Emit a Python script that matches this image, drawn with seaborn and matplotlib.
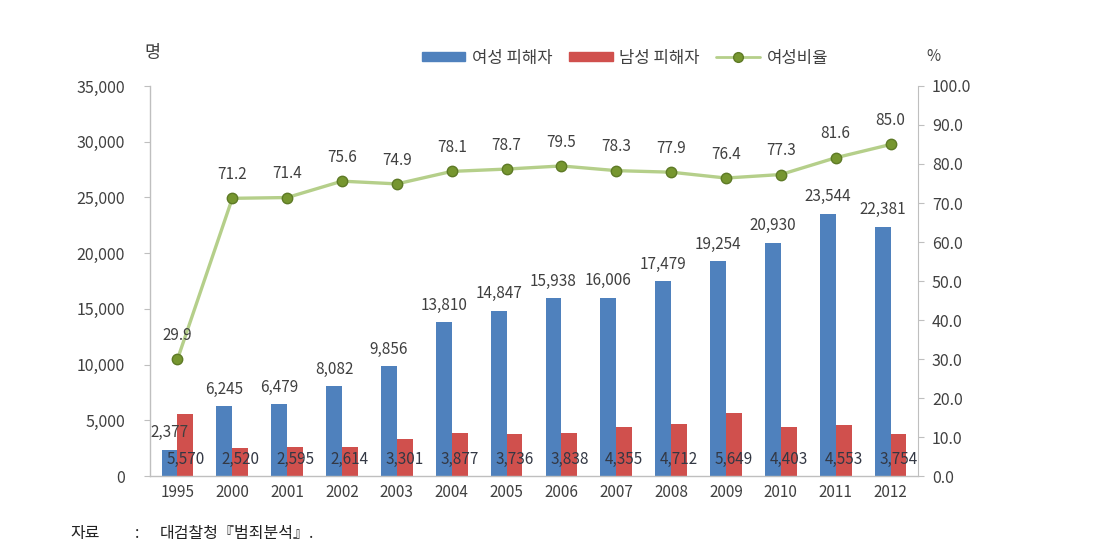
import matplotlib
matplotlib.use("Agg")
import matplotlib.pyplot as plt
import matplotlib.patches as mpatches
import matplotlib.lines as mlines
import seaborn as sns
import numpy as np
import pandas as pd

years = ["1995", "2000", "2001", "2002", "2003", "2004", "2005",
         "2006", "2007", "2008", "2009", "2010", "2011", "2012"]
female = [2377, 6245, 6479, 8082, 9856, 13810, 14847,
          15938, 16006, 17479, 19254, 20930, 23544, 22381]
male = [5570, 2520, 2595, 2614, 3301, 3877, 3736,
        3838, 4355, 4712, 5649, 4403, 4553, 3754]
ratio = [29.9, 71.2, 71.4, 75.6, 74.9, 78.1, 78.7,
         79.5, 78.3, 77.9, 76.4, 77.3, 81.6, 85.0]

BLUE = "#4F81BD"
RED = "#D0504D"
LINE = "#B5CF8A"
MARK = "#76962F"
TXT = "#404040"
AXC = "#BFBFBF"

sns.set_style("white")
plt.rcParams["font.family"] = ["Noto Sans CJK KR", "DejaVu Sans"]

df = pd.DataFrame({
    "year": years * 2,
    "value": female + male,
    "group": ["여성 피해자"] * len(years) + ["남성 피해자"] * len(years),
})

fig = plt.figure(figsize=(11.12, 5.53), dpi=100)
ax = fig.add_axes([0.1349, 0.1392, 0.6906, 0.7053])

sns.barplot(data=df, x="year", y="value", hue="group", ax=ax,
            palette=[BLUE, RED], width=0.58, gap=0, saturation=1,
            legend=False, errorbar=None, linewidth=0)
ax.set_xlim(-0.5, len(years) - 0.5)
ax.set_ylim(0, 35000)
ax.set_yticks(np.arange(0, 35001, 5000))
ax.set_yticklabels([f"{v:,}" for v in range(0, 35001, 5000)])
ax.set_xlabel("")
ax.set_ylabel("")

for s in ["top", "right"]:
    ax.spines[s].set_visible(False)
for s in ["left", "bottom"]:
    ax.spines[s].set_color(AXC)
    ax.spines[s].set_linewidth(1.0)
ax.tick_params(axis="y", length=4, color=AXC, labelsize=11.5, labelcolor=TXT, pad=14)
ax.tick_params(axis="x", which="major", length=0, labelsize=11, labelcolor=TXT, pad=6)
ax.set_xticks(np.arange(-0.5, len(years), 1), minor=True)
ax.tick_params(axis="x", which="minor", length=5, color=AXC)

bw = 0.29
for i, (f, m) in enumerate(zip(female, male)):
    ax.annotate(f"{f:,}", (i - bw / 2, f), xytext=(0, 6), textcoords="offset points",
                ha="center", va="bottom", fontsize=11, color=TXT)
    ax.annotate(f"{m:,}", (i + bw / 2, 0), xytext=(0, 12), textcoords="offset points",
                ha="center", va="center", fontsize=11, color="#333844")

ax2 = ax.twinx()
ax2.set_position(ax.get_position())
sns.lineplot(x=np.arange(len(years)), y=ratio, ax=ax2, color=LINE, linewidth=2.4,
             marker="o", markersize=7.5, markerfacecolor=MARK, markeredgecolor="#5E7A26",
             markeredgewidth=1)
ax2.set_ylim(0, 100)
ax2.set_yticks(np.arange(0, 101, 10))
ax2.set_yticklabels([f"{v:.1f}" for v in range(0, 101, 10)])
for s in ["top", "left", "bottom"]:
    ax2.spines[s].set_visible(False)
ax2.spines["right"].set_color(AXC)
ax2.tick_params(axis="y", length=4, color=AXC, labelsize=11.5, labelcolor=TXT, pad=6)
for i, r in enumerate(ratio):
    ax2.annotate(f"{r:.1f}", (i, r), xytext=(0, 11), textcoords="offset points",
                 ha="center", va="bottom", fontsize=11, color=TXT)

fig.text(0.137, 0.905, "명", fontsize=12.5, color=TXT, ha="center", va="center")
fig.text(0.839, 0.897, "%", fontsize=11, color=TXT, ha="center", va="center")

handles = [
    mpatches.Patch(color=BLUE, label="여성 피해자"),
    mpatches.Patch(color=RED, label="남성 피해자"),
    mlines.Line2D([], [], color=LINE, linewidth=2, marker="o", markersize=7,
                  markerfacecolor=MARK, markeredgecolor="#5E7A26", label="여성비율"),
]
fig.legend(handles=handles, loc="center", bbox_to_anchor=(0.562, 0.895), ncol=3,
           frameon=False, fontsize=12, handlelength=2.6, handleheight=0.5,
           columnspacing=1.0, handletextpad=0.4, labelcolor=TXT)

fig.text(0.063, 0.036, "자료", fontsize=11.5, color="#222222", ha="left", va="center")
fig.text(0.121, 0.036, ":", fontsize=11.5, color="#222222", ha="left", va="center")
fig.text(0.144, 0.036, "대검찰청『범죄분석』.", fontsize=11.5, color="#222222",
         ha="left", va="center")

fig.savefig("out.png", dpi=100)
